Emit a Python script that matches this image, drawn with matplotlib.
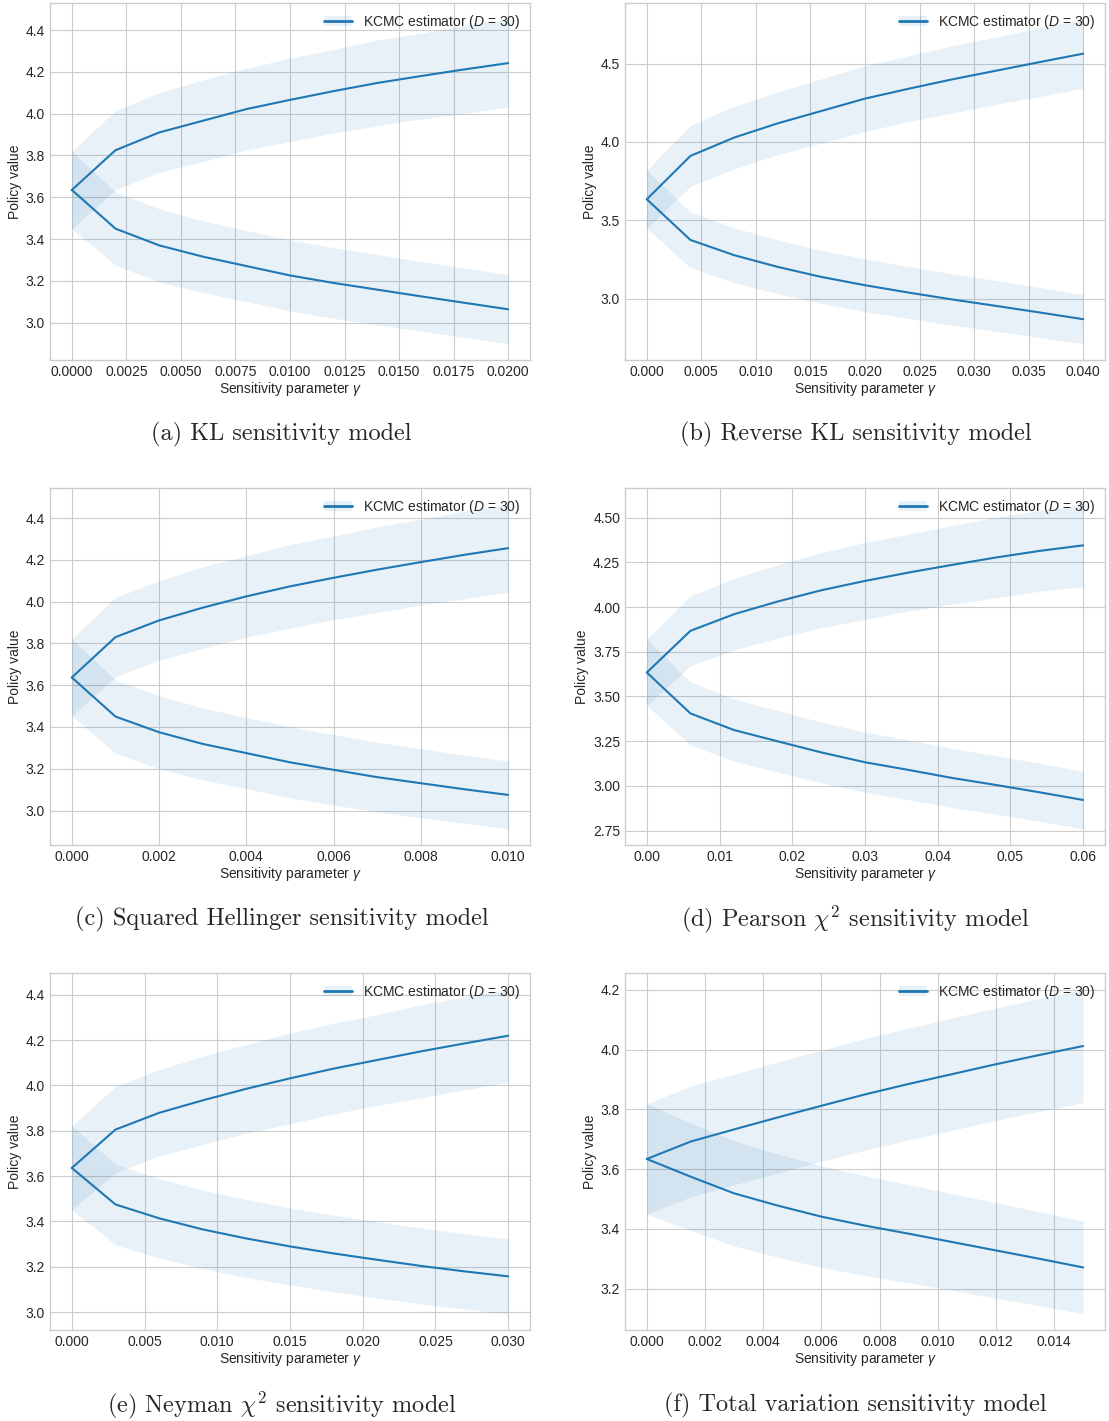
import matplotlib
matplotlib.use("Agg")
import matplotlib.pyplot as plt
from matplotlib.patches import Patch
from matplotlib.lines import Line2D
import numpy as np

plt.style.use("seaborn-v0_8-whitegrid")
plt.rcParams['font.family'] = ['Liberation Sans', 'DejaVu Sans']
plt.rcParams['mathtext.fontset'] = 'custom'
plt.rcParams['mathtext.rm'] = 'Liberation Sans'
plt.rcParams['mathtext.it'] = 'Liberation Sans:italic'

# sensitivity parameter grids
gamma_a = [0.0, 0.002, 0.004, 0.006, 0.008, 0.010, 0.012, 0.014, 0.016, 0.018, 0.020]
gamma_b = [0.0, 0.004, 0.008, 0.012, 0.016, 0.020, 0.024, 0.028, 0.032, 0.036, 0.040]
gamma_c = [0.0, 0.001, 0.002, 0.003, 0.004, 0.005, 0.006, 0.007, 0.008, 0.009, 0.010]
gamma_d = [0.0, 0.006, 0.012, 0.018, 0.024, 0.030, 0.036, 0.042, 0.048, 0.054, 0.060]
gamma_e = [0.0, 0.003, 0.006, 0.009, 0.012, 0.015, 0.018, 0.021, 0.024, 0.027, 0.030]
gamma_f = [0.0, 0.0015, 0.003, 0.0045, 0.006, 0.0075, 0.009, 0.0105, 0.012, 0.0135, 0.015]

# upper / lower bound estimates
upper_a = [3.635, 3.825, 3.91, 3.966, 4.022, 4.066, 4.108, 4.147, 4.18, 4.212, 4.242]
lower_a = [3.635, 3.45, 3.37, 3.316, 3.271, 3.226, 3.19, 3.158, 3.126, 3.095, 3.064]
upper_b = [3.634, 3.911, 4.028, 4.119, 4.198, 4.277, 4.34, 4.40, 4.455, 4.51, 4.564]
lower_b = [3.634, 3.374, 3.277, 3.202, 3.138, 3.085, 3.038, 2.994, 2.953, 2.911, 2.868]
upper_c = [3.637, 3.83, 3.91, 3.971, 4.025, 4.073, 4.114, 4.153, 4.189, 4.224, 4.256]
lower_c = [3.637, 3.45, 3.375, 3.319, 3.275, 3.231, 3.195, 3.16, 3.131, 3.102, 3.075]
upper_d = [3.634, 3.867, 3.96, 4.031, 4.094, 4.146, 4.193, 4.236, 4.277, 4.314, 4.345]
lower_d = [3.634, 3.405, 3.312, 3.249, 3.187, 3.132, 3.089, 3.044, 3.005, 2.964, 2.921]
upper_e = [3.636, 3.805, 3.879, 3.934, 3.985, 4.031, 4.074, 4.112, 4.15, 4.185, 4.219]
lower_e = [3.636, 3.475, 3.414, 3.365, 3.325, 3.29, 3.259, 3.231, 3.204, 3.18, 3.158]
upper_f = [3.634, 3.692, 3.733, 3.773, 3.812, 3.85, 3.885, 3.918, 3.951, 3.982, 4.012]
lower_f = [3.634, 3.575, 3.519, 3.478, 3.441, 3.411, 3.384, 3.356, 3.328, 3.30, 3.271]

# half widths of the shaded bands
upper_sd_a = [0.185, 0.19, 0.19, 0.195, 0.195, 0.2, 0.2, 0.205, 0.205, 0.21, 0.21]
lower_sd_a = [0.185, 0.175, 0.175, 0.172, 0.17, 0.17, 0.169, 0.168, 0.167, 0.166, 0.165]
upper_sd_b = [0.185, 0.195, 0.2, 0.2, 0.205, 0.21, 0.21, 0.215, 0.215, 0.22, 0.22]
lower_sd_b = [0.185, 0.178, 0.175, 0.172, 0.17, 0.168, 0.166, 0.164, 0.162, 0.16, 0.157]
upper_sd_c = [0.185, 0.19, 0.19, 0.195, 0.195, 0.2, 0.2, 0.205, 0.205, 0.21, 0.21]
lower_sd_c = [0.185, 0.175, 0.175, 0.172, 0.17, 0.17, 0.168, 0.167, 0.165, 0.163, 0.162]
upper_sd_d = [0.185, 0.195, 0.2, 0.205, 0.21, 0.215, 0.215, 0.22, 0.225, 0.225, 0.23]
lower_sd_d = [0.185, 0.176, 0.174, 0.172, 0.17, 0.168, 0.167, 0.165, 0.164, 0.162, 0.161]
upper_sd_e = [0.185, 0.19, 0.19, 0.195, 0.195, 0.2, 0.2, 0.2, 0.205, 0.205, 0.205]
lower_sd_e = [0.185, 0.178, 0.175, 0.173, 0.172, 0.17, 0.169, 0.168, 0.167, 0.166, 0.165]
upper_sd_f = [0.185, 0.185, 0.185, 0.186, 0.186, 0.187, 0.187, 0.188, 0.188, 0.189, 0.19]
lower_sd_f = [0.185, 0.18, 0.176, 0.173, 0.17, 0.167, 0.164, 0.162, 0.16, 0.157, 0.155]

captions = ["(a) KL sensitivity model",
            "(b) Reverse KL sensitivity model",
            "(c) Squared Hellinger sensitivity model",
            "(d) Pearson $\\chi^2$ sensitivity model",
            "(e) Neyman $\\chi^2$ sensitivity model",
            "(f) Total variation sensitivity model"]

panels = [
    (gamma_a, upper_a, lower_a, upper_sd_a, lower_sd_a),
    (gamma_b, upper_b, lower_b, upper_sd_b, lower_sd_b),
    (gamma_c, upper_c, lower_c, upper_sd_c, lower_sd_c),
    (gamma_d, upper_d, lower_d, upper_sd_d, lower_sd_d),
    (gamma_e, upper_e, lower_e, upper_sd_e, lower_sd_e),
    (gamma_f, upper_f, lower_f, upper_sd_f, lower_sd_f),
]

W, H = 1109, 1421
fig = plt.figure(figsize=(W / 100, H / 100), dpi=100)

lefts = [50, 625]
tops = [3, 488, 973]
ax_w, ax_h = 480, 357
cap_x = [281.5, 855.5]
cap_y = [434, 919, 1405]

color = '#1f77b4'
for i, (g, up, lo, usd, lsd) in enumerate(panels):
    r, c = divmod(i, 2)
    ax = fig.add_axes([lefts[c] / W, 1 - (tops[r] + ax_h) / H, ax_w / W, ax_h / H])
    g = np.array(g)
    up, lo, usd, lsd = map(np.array, (up, lo, usd, lsd))
    ax.plot(g, up, color=color, lw=1.5)
    ax.fill_between(g, up - usd, up + usd, color=color, alpha=0.1, lw=0)
    ax.plot(g, lo, color=color, lw=1.5)
    ax.fill_between(g, lo - lsd, lo + lsd, color=color, alpha=0.1, lw=0)
    ax.set_xlabel("Sensitivity parameter $\\gamma$", fontsize=10, labelpad=1)
    ax.set_ylabel("Policy value", fontsize=10, labelpad=3)
    ax.tick_params(labelsize=10)
    handle = (Patch(facecolor=color, alpha=0.1, lw=0), Line2D([], [], color=color, lw=2))
    ax.legend([handle], ["KCMC estimator ($D$ = 30)"], loc="upper right", fontsize=10,
              frameon=False, borderaxespad=0.3)
    fig.text(cap_x[c] / W, 1 - cap_y[r] / H, captions[i], ha="center", va="center",
             fontsize=17.5, family="cmr10", math_fontfamily="cm")

fig.savefig("out.png", dpi=100)
